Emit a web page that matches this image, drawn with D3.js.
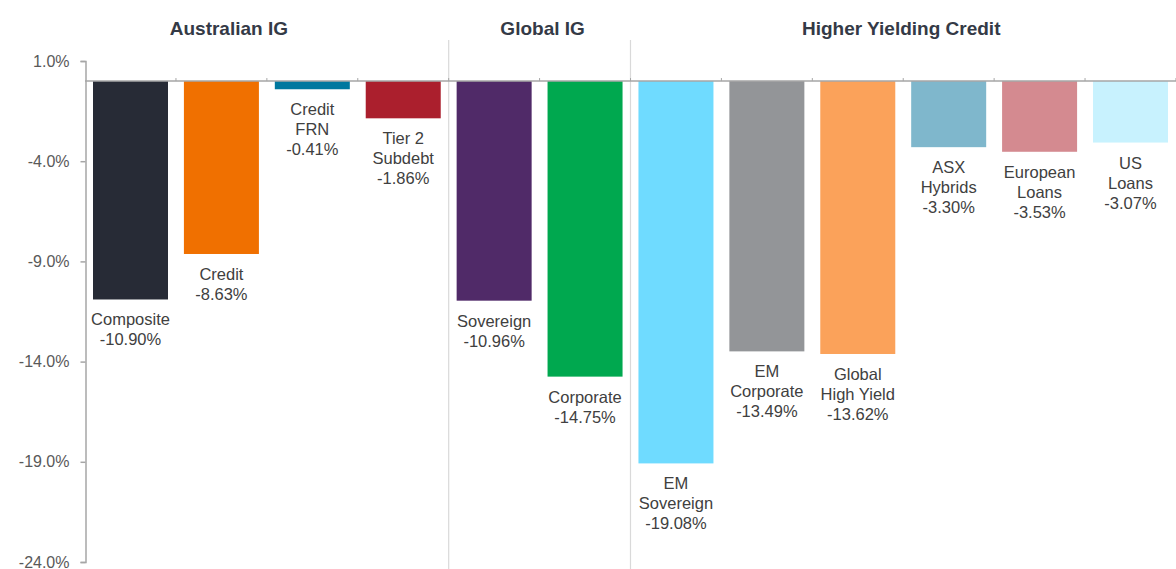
<!DOCTYPE html>
<html>
<head>
<meta charset="utf-8">
<script src="https://cdn.jsdelivr.net/npm/d3@7"></script>
<style>
  html, body { margin: 0; padding: 0; background: #ffffff; }
  svg { display: block; }
</style>
</head>
<body>
<svg id="chart" width="1176" height="569"></svg>
<script>
// ---- data ----
const categories = ["Composite", "Credit", "Credit FRN", "Tier 2 Subdebt", "Sovereign", "Corporate",
  "EM Sovereign", "EM Corporate", "Global High Yield", "ASX Hybrids", "European Loans", "US Loans"];
const labelLines = [["Composite"], ["Credit"], ["Credit", "FRN"], ["Tier 2", "Subdebt"], ["Sovereign"], ["Corporate"],
  ["EM", "Sovereign"], ["EM", "Corporate"], ["Global", "High Yield"], ["ASX", "Hybrids"], ["European", "Loans"], ["US", "Loans"]];
const values = [-10.90, -8.63, -0.41, -1.86, -10.96, -14.75, -19.08, -13.49, -13.62, -3.30, -3.53, -3.07];
const colors = ["#272b36", "#f07000", "#00789f", "#ab1f2d", "#502a68", "#00a84f",
  "#6fdbff", "#939598", "#fba25a", "#7fb7cc", "#d48a90", "#c8f2fe"];
const groupNames = ["Australian IG", "Global IG", "Higher Yielding Credit"];
const groupFirst = [0, 4, 6];
const groupLast = [3, 5, 11];
const yTicks = [1, -4, -9, -14, -19, -24];

// ---- layout ----
const svg = d3.select("#chart");
const x = d3.scaleBand().domain(categories).range([85, 1176]).paddingInner(0.175).paddingOuter(0.088);
const y = d3.scaleLinear().domain([-24, 1]).range([562, 61]);
const gapHalf = (x.step() - x.bandwidth()) / 2;
const axisColor = "#a6a6a6";
const font = "'Liberation Sans', Arial, sans-serif";
const pct = (d, p) => d.toFixed(p) + "%";

// separators between groups
const sepX = groupFirst.slice(1).map(i => x(categories[i]) - gapHalf);
svg.selectAll("line.sep").data(sepX).enter().append("line")
  .attr("class", "sep")
  .attr("x1", d => d).attr("x2", d => d)
  .attr("y1", 40).attr("y2", 569)
  .attr("stroke", "#d9d9d9").attr("stroke-width", 1.2);

// bars
svg.selectAll("rect.bar").data(values).enter().append("rect")
  .attr("class", "bar")
  .attr("x", (d, i) => x(categories[i]))
  .attr("width", x.bandwidth())
  .attr("y", d => y(Math.max(0, d)))
  .attr("height", d => Math.abs(y(d) - y(0)))
  .attr("fill", (d, i) => colors[i]);

// y axis
const yAxis = d3.axisLeft(y).tickValues(yTicks).tickSize(5).tickPadding(11)
  .tickFormat(d => pct(d, 1));
const gy = svg.append("g").attr("transform", "translate(85.5,0)").call(yAxis);
gy.select(".domain").attr("stroke", axisColor).attr("stroke-width", 1.5);
gy.selectAll(".tick line").attr("stroke", axisColor).attr("stroke-width", 1.5);
gy.selectAll(".tick text").attr("fill", "#595959").attr("font-size", "16px")
  .attr("font-family", font);

// zero category axis
const boundaries = categories.map(c => x(c) - gapHalf).concat([x(categories[categories.length - 1]) + x.bandwidth() + gapHalf]);
svg.append("line")
  .attr("x1", 85).attr("x2", 1176)
  .attr("y1", y(0)).attr("y2", y(0))
  .attr("stroke", axisColor).attr("stroke-width", 1.5);
svg.selectAll("line.ctick").data(boundaries.slice(1)).enter().append("line")
  .attr("class", "ctick")
  .attr("x1", d => d).attr("x2", d => d)
  .attr("y1", y(0) - 3).attr("y2", y(0))
  .attr("stroke", axisColor).attr("stroke-width", 1);

// data labels
const lbl = svg.selectAll("text.lbl").data(values).enter().append("text")
  .attr("class", "lbl")
  .attr("text-anchor", "middle")
  .attr("font-family", font)
  .attr("font-size", "16.5px")
  .attr("fill", "#404040");
lbl.each(function (d, i) {
  const t = d3.select(this);
  const cx = x(categories[i]) + x.bandwidth() / 2;
  const lines = labelLines[i].concat([pct(d, 2)]);
  const base = y(d) + 26;
  lines.forEach((s, k) => {
    t.append("tspan").attr("x", cx).attr("y", base + k * 20).text(s);
  });
});

// group titles
const titleOffset = [-38, 3, -2];
svg.selectAll("text.title").data(groupNames).enter().append("text")
  .attr("class", "title")
  .attr("text-anchor", "middle")
  .attr("x", (d, i) => {
    const a = x(categories[groupFirst[i]]) - gapHalf;
    const b = x(categories[groupLast[i]]) + x.bandwidth() + gapHalf;
    return (a + b) / 2 + titleOffset[i];
  })
  .attr("y", 35)
  .attr("font-family", font)
  .attr("font-weight", "bold")
  .attr("font-size", "19px")
  .attr("fill", "#343a46")
  .text(d => d);
</script>
</body>
</html>
